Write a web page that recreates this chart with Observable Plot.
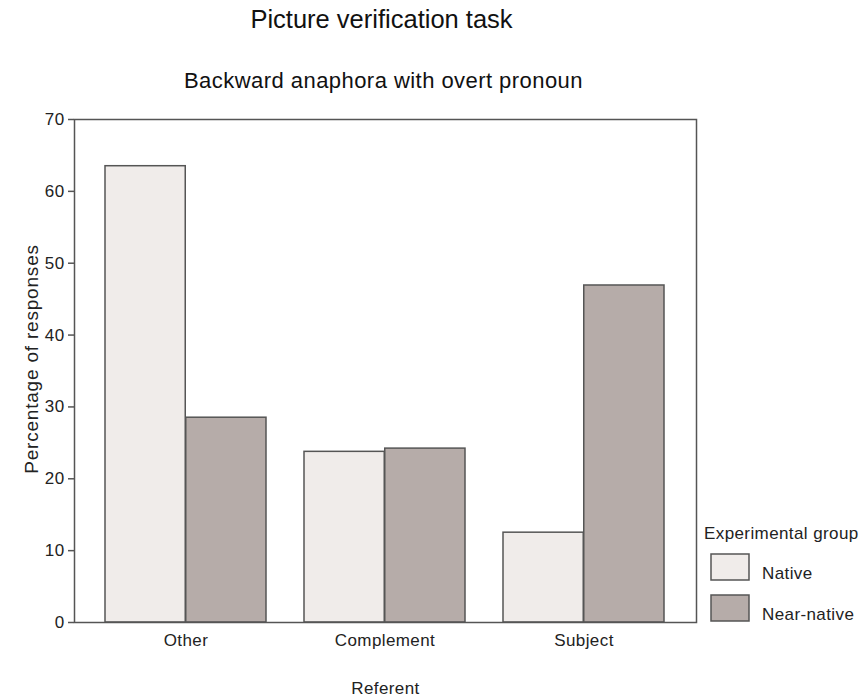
<!DOCTYPE html>
<html>
<head>
<meta charset="utf-8">
<script src="https://cdn.jsdelivr.net/npm/d3@7"></script>
<script src="https://cdn.jsdelivr.net/npm/@observablehq/plot@0.6"></script>
<style>
  body { margin: 0; background: #fff; }
  #chart { position: relative; width: 863px; height: 698px; }
</style>
</head>
<body>
<div id="chart"></div>
<script>
const categories = ["Other", "Complement", "Subject"];
const groups = ["Native", "Near-native"];
const nativeValues = [63.5, 23.75, 12.5];
const nearNativeValues = [28.5, 24.2, 46.9];
const yTicks = [0, 10, 20, 30, 40, 50, 60, 70];

const titleText = "Picture verification task";
const subtitleText = "Backward anaphora with overt pronoun";
const xLabel = "Referent";
const yLabel = "Percentage of responses";
const legendTitle = "Experimental group";

const colors = ["#f0ecea", "#b6aca9"];

const nativeData = categories.map((c, i) => ({category: c, group: groups[0], value: nativeValues[i]}));
const nearData = categories.map((c, i) => ({category: c, group: groups[1], value: nearNativeValues[i]}));

const font = "'Liberation Sans', Arial, Helvetica, sans-serif";
const halfBand = 80.75;

const plot = Plot.plot({
  width: 863,
  height: 698,
  marginLeft: 74,
  marginRight: 167,
  marginTop: 119,
  marginBottom: 76,
  style: {fontFamily: font, fontSize: "17px", color: "#222", background: "#fff", letterSpacing: "0.4px"},
  x: {domain: categories, paddingInner: 0.19, paddingOuter: 0.155, label: null},
  y: {domain: [0, 70], ticks: yTicks, label: null},
  color: {domain: groups, range: colors},
  marks: [
    Plot.barY(nativeData, {x: "category", y: "value", fill: "group", stroke: "#555", strokeWidth: 1.5, insetLeft: 0, insetRight: halfBand}),
    Plot.barY(nearData, {x: "category", y: "value", fill: "group", stroke: "#555", strokeWidth: 1.5, insetLeft: halfBand, insetRight: 0}),
    Plot.frame({stroke: "#555", strokeWidth: 1.5}),
    Plot.axisY({ticks: yTicks, tickSize: 6, tickPadding: 4, stroke: "#555", strokeWidth: 1.5, label: null, fontSize: 17, fill: "#222"}),
    Plot.axisX({tickSize: 0, tickPadding: 11, label: null, fontSize: 17, fill: "#222"}),
    Plot.text([titleText], {frameAnchor: "top", lineAnchor: "bottom", textAnchor: "middle", dy: -92, dx: -4, fontSize: 25.5, fill: "#111", text: d => d}),
    Plot.text([subtitleText], {frameAnchor: "top", lineAnchor: "bottom", textAnchor: "middle", dy: -32, dx: -2, fontSize: 22, fill: "#111", text: d => d}),
    Plot.text([xLabel], {frameAnchor: "bottom", lineAnchor: "bottom", textAnchor: "middle", dy: 71, fontSize: 17, fill: "#222", text: d => d}),
    Plot.text([yLabel], {frameAnchor: "left", lineAnchor: "bottom", textAnchor: "middle", dx: -37, dy: -12, rotate: -90, fontSize: 19, fill: "#222", text: d => d})
  ]
});

document.getElementById("chart").appendChild(plot);

// letter spacing tweaks for the titles
const svg = d3.select(plot);
svg.selectAll("text").filter(function() { return this.textContent === subtitleText; }).attr("letter-spacing", "0.45px");
svg.selectAll("text").filter(function() { return this.textContent === titleText; }).attr("letter-spacing", "0px");
svg.selectAll("text").filter(function() { return this.textContent === yLabel; }).attr("letter-spacing", "0.8px");

// Legend
const lg = svg.append("g").attr("font-family", font).attr("fill", "#222").attr("text-anchor", "start").attr("letter-spacing", "0.4px");
lg.append("text").attr("x", 704).attr("y", 539).attr("font-size", 17).text(legendTitle);
groups.forEach((gname, i) => {
  const y0 = 554 + i * 41;
  lg.append("rect").attr("x", 711).attr("y", y0).attr("width", 38).attr("height", 26)
    .attr("fill", colors[i]).attr("stroke", "#555").attr("stroke-width", 1.5);
  lg.append("text").attr("x", 762).attr("y", y0 + 25).attr("font-size", 17).text(gname);
});
</script>
</body>
</html>
